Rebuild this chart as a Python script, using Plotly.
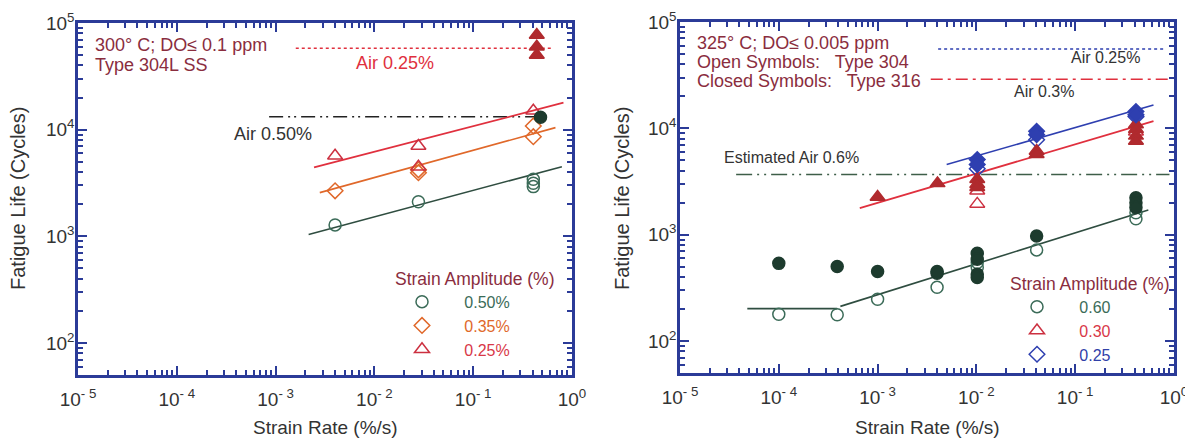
import plotly.graph_objects as go

# ---------------- Left panel: 300 C, DO <= 0.1 ppm, Type 304L SS ----------------
L_rate_050 = [0.004, 0.0279, 0.406, 0.406, 0.406]
L_life_050 = [1280, 2110, 3430, 3150, 2925]
L_rate_035 = [0.004, 0.0279, 0.0279, 0.406, 0.406]
L_life_035 = [2670, 4200, 3950, 10840, 8590]
L_rate_025 = [0.004, 0.0279, 0.0279, 0.406]
L_life_025 = [5700, 7030, 4500, 15070]
L_rate_025_closed = [0.44, 0.44, 0.44]
L_life_025_closed = [77200, 60000, 50100]
L_rate_050_closed = [0.48]
L_life_050_closed = [13070]

L_fit_rate_050 = [0.00216, 0.79]
L_fit_life_050 = [1042, 4500]
L_fit_rate_035 = [0.0028, 0.68]
L_fit_life_035 = [2570, 10450]
L_fit_rate_025 = [0.00245, 0.82]
L_fit_life_025 = [4430, 17900]

L_air_rate_025 = [0.0016, 0.62]
L_air_life_025 = [58000, 58000]
L_air_rate_050 = [0.00086, 0.53]
L_air_life_050 = [13240, 13240]

# ---------------- Right panel: 325 C, DO <= 0.005 ppm, Types 304 / 316 ----------------
R_rate_060_open = [0.0001, 0.00039, 0.001, 0.004, 0.0102, 0.0102, 0.0407, 0.412, 0.412]
R_life_060_open = [179, 177, 247, 321, 548, 492, 720, 1610, 1415]
R_rate_060_closed = [0.0001, 0.00039, 0.001, 0.004, 0.004, 0.0102, 0.0102, 0.0102, 0.0102,
                     0.0407, 0.412, 0.412, 0.412]
R_life_060_closed = [538, 502, 451, 451, 435, 670, 589, 426, 396, 973, 2230, 2000, 1800]
R_rate_030_open = [0.0102, 0.0102, 0.412]
R_life_030_open = [2590, 1950, 9300]
R_rate_030_closed = [0.001, 0.00404, 0.0102, 0.0102, 0.0102, 0.0407, 0.0407,
                     0.412, 0.412, 0.412, 0.412]
R_life_030_closed = [2260, 3040, 3330, 2990, 2790, 6120, 5710, 10900, 9800, 8500, 7600]
R_rate_025_open = [0.0102, 0.0407, 0.412]
R_life_025_open = [4170, 7830, 12900]
R_rate_025_closed = [0.0102, 0.0102, 0.0407, 0.0407, 0.412, 0.412]
R_life_025_closed = [5090, 4570, 9380, 8730, 14400, 13400]

R_fit_rate_060_flat = [4.8e-5, 0.00039]
R_fit_life_060_flat = [202, 202]
R_fit_rate_060 = [0.00042, 0.55]
R_fit_life_060 = [212, 1710]
R_fit_rate_030 = [0.00066, 0.62]
R_fit_life_030 = [1780, 11700]
R_fit_rate_025 = [0.005, 0.62]
R_fit_life_025 = [4570, 16600]

R_air_rate_025 = [0.0041, 0.80]
R_air_life_025 = [55600, 55600]
R_air_rate_030 = [0.00345, 0.90]
R_air_life_030 = [28950, 28950]
R_air_rate_060 = [3.7e-5, 0.90]
R_air_life_060 = [3680, 3680]

# ---------------- Axis ticks ----------------
x_tick_vals = [1e-5, 1e-4, 1e-3, 1e-2, 1e-1, 1]
x_tick_text = ["10<sup>- 5</sup>", "10<sup>- 4</sup>", "10<sup>- 3</sup>",
               "10<sup>- 2</sup>", "10<sup>- 1</sup>", "10<sup>0</sup>"]
y_tick_vals = [1e2, 1e3, 1e4, 1e5]
y_tick_text = ["10<sup>2</sup>", "10<sup>3</sup>", "10<sup>4</sup>", "10<sup>5</sup>"]

FONT = "Liberation Sans, Arial, sans-serif"
FRAME = "#2b3b98"
GREEN = "#2f4d40"
GREEN_DK = "#1d3b2e"
ORANGE = "#e0682a"
RED = "#e0303e"
RED_PT = "#cc3040"
RED_DK = "#b02a2e"
BLUE = "#2e3fb0"
DARKRED = "#8a2d3e"
TXT = "#333333"
NB = "\u00a0"

fig = go.Figure()


def add(x, y, xa, ya, name=None, legend=None, mode="markers", symbol="circle-open",
        color="black", size=11, lw=1.5, dash="solid", showlegend=False):
    if mode == "markers":
        fig.add_trace(go.Scatter(
            x=x, y=y, mode="markers", xaxis=xa, yaxis=ya, name=name,
            legend=legend, showlegend=showlegend,
            marker=dict(symbol=symbol, size=size, color=color,
                        line=dict(color=color, width=lw))))
    else:
        fig.add_trace(go.Scatter(
            x=x, y=y, mode="lines", xaxis=xa, yaxis=ya, showlegend=False,
            line=dict(color=color, width=lw, dash=dash)))


def lname(text, color):
    return f"{NB * 3}<span style='color:{color}'>{text}</span>"


# Left panel lines
add(L_air_rate_025, L_air_life_025, "x", "y", mode="lines", color=RED, lw=1.5, dash="dot")
add(L_air_rate_050, L_air_life_050, "x", "y", mode="lines", color="#222222", lw=1.5,
    dash="14px,5px,2px,4px,2px,5px")
add(L_fit_rate_050, L_fit_life_050, "x", "y", mode="lines", color=GREEN, lw=1.6)
add(L_fit_rate_035, L_fit_life_035, "x", "y", mode="lines", color=ORANGE, lw=1.6)
add(L_fit_rate_025, L_fit_life_025, "x", "y", mode="lines", color=RED, lw=1.8)
# Left panel points
add(L_rate_050, L_life_050, "x", "y", name=lname("0.50%", "#3b6b58"),
    legend="legend", symbol="circle-open", color="#3b6b58", size=12, showlegend=True)
add(L_rate_035, L_life_035, "x", "y", name=lname("0.35%", "#e0682a"),
    legend="legend", symbol="diamond-open", color=ORANGE, size=12, showlegend=True)
add(L_rate_025, L_life_025, "x", "y", name=lname("0.25%", "#d83848"),
    legend="legend", symbol="triangle-up-open", color=RED_PT, size=13, showlegend=True)
add(L_rate_025_closed, L_life_025_closed, "x", "y", symbol="triangle-up", color=RED_DK, size=13)
add(L_rate_050_closed, L_life_050_closed, "x", "y", symbol="circle", color=GREEN_DK, size=12)

# Right panel lines
add(R_air_rate_025, R_air_life_025, "x2", "y2", mode="lines", color=BLUE, lw=1.5, dash="dot")
add(R_air_rate_030, R_air_life_030, "x2", "y2", mode="lines", color=RED, lw=1.6,
    dash="12px,5px,3px,5px")
add(R_air_rate_060, R_air_life_060, "x2", "y2", mode="lines", color="#3d5e48", lw=1.6,
    dash="16px,5px,2px,5px,2px,5px")
add(R_fit_rate_060_flat, R_fit_life_060_flat, "x2", "y2", mode="lines", color=GREEN, lw=1.6)
add(R_fit_rate_060, R_fit_life_060, "x2", "y2", mode="lines", color=GREEN, lw=1.6)
add(R_fit_rate_030, R_fit_life_030, "x2", "y2", mode="lines", color=RED, lw=1.8)
add(R_fit_rate_025, R_fit_life_025, "x2", "y2", mode="lines", color=BLUE, lw=1.6)
# Right panel points
add(R_rate_060_open, R_life_060_open, "x2", "y2", name=lname("0.60", "#3b6b58"),
    legend="legend2", symbol="circle-open", color="#3b6b58", size=12, showlegend=True)
add(R_rate_030_open, R_life_030_open, "x2", "y2", name=lname("0.30", "#d83848"),
    legend="legend2", symbol="triangle-up-open", color=RED_PT, size=13, showlegend=True)
add(R_rate_025_open, R_life_025_open, "x2", "y2", name=lname("0.25", "#3040a8"),
    legend="legend2", symbol="diamond-open", color=BLUE, size=12, showlegend=True)
add(R_rate_060_closed, R_life_060_closed, "x2", "y2", symbol="circle", color=GREEN_DK, size=12)
add(R_rate_030_closed, R_life_030_closed, "x2", "y2", symbol="triangle-up", color=RED_DK, size=13)
add(R_rate_025_closed, R_life_025_closed, "x2", "y2", symbol="diamond", color=BLUE, size=12)

# page has an 8px body margin: size the figure so it fills the window exactly
OFF = 8
W, H = 1193 - OFF, 438 - OFF


def px(x):
    return (x - OFF) / W


def py(y):
    return 1 - (y - OFF) / H


minor_x = [m * 10 ** e for e in range(-5, 0) for m in range(2, 10)]
minor_y = [m * 10 ** e for e in range(1, 5) for m in range(2, 10)]

xcommon = dict(type="log", range=[-5, 0], showline=True, linecolor=FRAME, linewidth=2.5,
               mirror="ticks", ticks="inside", ticklen=9, tickwidth=2, tickcolor=FRAME,
               tickvals=x_tick_vals, ticktext=x_tick_text, showgrid=False, zeroline=False,
               automargin=False, ticklabelstandoff=5,
               tickfont=dict(family=FONT, size=19, color=TXT),
               minor=dict(tickvals=minor_x, ticks="inside", ticklen=5, tickwidth=1.5,
                          tickcolor=FRAME, showgrid=False))
ycommon = dict(type="log", range=[1.7, 5], showline=True, linecolor=FRAME, linewidth=2.5,
               mirror="ticks", ticks="inside", ticklen=9, tickwidth=2, tickcolor=FRAME,
               tickvals=y_tick_vals, ticktext=y_tick_text, showgrid=False, zeroline=False,
               automargin=False, ticklabelstandoff=-3,
               tickfont=dict(family=FONT, size=19, color=TXT),
               minor=dict(tickvals=minor_y, ticks="inside", ticklen=5, tickwidth=1.5,
                          tickcolor=FRAME, showgrid=False))

leg_common = dict(xanchor="left", yanchor="top", bgcolor="rgba(0,0,0,0)", borderwidth=0,
                  tracegroupgap=0, font=dict(family=FONT, size=16), itemwidth=48)

fig.update_layout(
    template="none",
    width=W, height=H, margin=dict(l=0, r=0, t=0, b=0, pad=0, autoexpand=False),
    paper_bgcolor="white", plot_bgcolor="white",
    font=dict(family=FONT, size=16, color=TXT),
    xaxis=dict(domain=[px(78), px(572)], anchor="y", **xcommon),
    yaxis=dict(domain=[py(375), py(23)], anchor="x", **ycommon),
    xaxis2=dict(domain=[px(680), px(1174)], anchor="y2", **xcommon),
    yaxis2=dict(domain=[py(373), py(22)], anchor="x2", **ycommon),
    legend=dict(x=px(393), y=py(262), **leg_common,
                title=dict(text="Strain Amplitude (%)", side="top",
                           font=dict(family=FONT, size=17.5, color=DARKRED))),
    legend2=dict(x=px(1008), y=py(267), **leg_common,
                 title=dict(text="Strain Amplitude (%)", side="top",
                            font=dict(family=FONT, size=17.5, color=DARKRED))),
)

# (x_px, y_px, text, colour, anchor, size, angle)
ann = [
    (93, 45, "300° C; DO≤ 0.1 ppm", DARKRED, "left", 18, 0),
    (93, 65, "Type 304L SS", DARKRED, "left", 18, 0),
    (395, 63, "Air 0.25%", RED, "center", 18, 0),
    (273, 134, "Air 0.50%", TXT, "center", 18, 0),
    (695, 43, "325° C; DO≤ 0.005 ppm", DARKRED, "left", 18, 0),
    (695, 62, "Open Symbols:" + NB * 2 + " Type 304", DARKRED, "left", 18, 0),
    (695, 81, "Closed Symbols:" + NB * 2 + " Type 316", DARKRED, "left", 18, 0),
    (1105, 58, "Air 0.25%", TXT, "center", 16, 0),
    (1044, 91, "Air 0.3%", TXT, "center", 16, 0),
    (791, 157, "Estimated Air 0.6%", TXT, "center", 16, 0),
    (325, 427, "Strain Rate (%/s)", TXT, "center", 19, 0),
    (927, 427, "Strain Rate (%/s)", TXT, "center", 19, 0),
    (18, 199, "Fatigue Life (Cycles)", TXT, "center", 20, -90),
    (622, 199, "Fatigue Life (Cycles)", TXT, "center", 20, -90),
]
for x, y, t, c, al, s, ang in ann:
    fig.add_annotation(x=px(x), y=py(y), xref="paper", yref="paper", text=t,
                       showarrow=False, xanchor=al, yanchor="middle", textangle=ang,
                       font=dict(family=FONT, size=s, color=c))

fig.write_html("out.html")
